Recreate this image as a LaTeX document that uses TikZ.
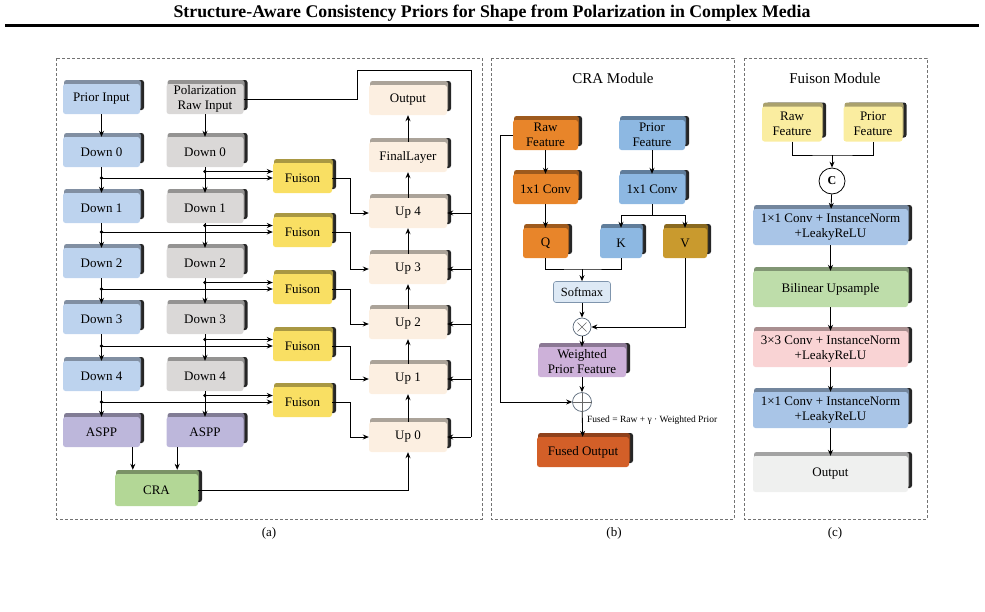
\documentclass[tikz,border=0pt]{standalone}
\usepackage{fontspec}
\setmainfont{Liberation Serif}
\usetikzlibrary{shadows,arrows.meta,calc}
\definecolor{cBlue}{HTML}{BDD3EE}
\definecolor{cGray}{HTML}{DAD8D7}
\definecolor{cYel}{HTML}{F9DF63}
\definecolor{cCream}{HTML}{FCEFE1}
\definecolor{cAspp}{HTML}{BDB7DB}
\definecolor{cGreen}{HTML}{B3D796}
\definecolor{cOrange}{HTML}{E8852A}
\definecolor{cPBlue}{HTML}{8DB8E2}
\definecolor{cGold}{HTML}{C99A2E}
\definecolor{cPurple}{HTML}{CDB1D9}
\definecolor{cRed}{HTML}{D35F28}
\definecolor{cSoft}{HTML}{DDE9F5}
\definecolor{cSoftB}{HTML}{7F95AD}
\definecolor{cLYel}{HTML}{FAEDA0}
\definecolor{cCBlue}{HTML}{A9C5E7}
\definecolor{cCGreen}{HTML}{BEDDAA}
\definecolor{cPink}{HTML}{F9D3D4}
\definecolor{cLGray}{HTML}{EFF0EF}
\tikzset{
  bx/.style={rounded corners=2.5pt, minimum height=30pt, inner sep=1pt, align=center,
    font=\fontsize{13}{15}\selectfont, fill=#1,
    general shadow={fill=black!85, shadow xshift=4pt, shadow yshift=4pt},
    general shadow={fill=#1!68!black, shadow xshift=1pt, shadow yshift=4pt}},
  arr/.style={-{Stealth[length=6pt,width=5pt]}, line width=0.85pt},
  ln/.style={line width=0.85pt},
  panel/.style={draw=black!55, dash pattern=on 3pt off 2pt, line width=0.6pt},
  dot/.style={circle, fill=black, inner sep=0pt, minimum size=3.8pt},
  lbl/.style={font=\fontsize{13}{15}\selectfont},
  ptitle/.style={font=\fontsize{15}{17}\selectfont},
}
\begin{document}
\begin{tikzpicture}[x=1pt,y=-1pt]
\useasboundingbox (0,0) rectangle (985,611);
% title
\node[font=\bfseries\fontsize{17.8}{20}\selectfont] (title) at (492,13) {Structure-Aware Consistency Priors for Shape from Polarization in Complex Media};
\draw[line width=3pt] (5,25.5) -- (979,25.5);
% panels
\draw[panel] (56,58) rectangle (482,519);
\draw[panel] (491,58) rectangle (734,519);
\draw[panel] (744,58) rectangle (927,519);
\node[lbl] (la) at (269,533) {(a)};
\node[lbl] (lb) at (614,533) {(b)};
\node[lbl] (lc) at (835,533) {(c)};

% ---------------- panel (a)
\node[bx=cBlue, minimum width=77pt] (pin) at (101.5,99) {Prior Input};
\node[bx=cGray, minimum width=77pt] (rin) at (205,99) {Polarization\\Raw Input};
\foreach \i/\y in {0/152,1/208,2/263,3/319,4/376}{
  \node[bx=cBlue, minimum width=77pt] (pd\i) at (101.5,\y) {Down \i};
  \node[bx=cGray, minimum width=77pt] (rd\i) at (205,\y) {Down \i};
}
\node[bx=cAspp, minimum width=77pt] (pa) at (101.5,432) {ASPP};
\node[bx=cAspp, minimum width=77pt] (ra) at (205,432) {ASPP};
\foreach \i/\y in {0/178,1/232,2/289,3/346,4/402}{
  \node[bx=cYel, minimum width=59pt] (f\i) at (302.5,\y) {Fuison};
}
\node[bx=cCream, minimum width=78pt] (out) at (408,100) {Output};
\node[bx=cCream, minimum width=78pt] (fl) at (408,157) {FinalLayer};
\foreach \i/\y in {4/213,3/269,2/324,1/379,0/437}{
  \node[bx=cCream, minimum width=78pt] (u\i) at (408,\y) {Up \i};
}
\node[bx=cGreen, minimum width=83pt, minimum height=32pt] (cra) at (156.5,490) {CRA};

\draw[arr] (pin) -- (pd0);
\draw[arr] (rin) -- (rd0);
\foreach \a/\b in {0/1,1/2,2/3,3/4}{
  \draw[arr] (pd\a) -- (pd\b);
  \draw[arr] (rd\a) -- (rd\b);
}
\draw[arr] (pd4) -- (pa);
\draw[arr] (rd4) -- (ra);
\foreach \i in {0,...,4}{
  \draw[arr] (pd\i.south |- f\i.west) -- (f\i.west);
  \node[dot] at (pd\i.south |- f\i.west) {};
  \draw[arr] ($(rd\i.south |- f\i.west)+(0,-6.5)$) -- ($(f\i.west)+(0,-6.5)$);
  \node[dot] at ($(rd\i.south |- f\i.west)+(0,-6.5)$) {};
}
\foreach \i/\j in {0/4,1/3,2/2,3/1,4/0}{
  \draw[arr] (f\i.east) -- ++(18,0) |- (u\j.west);
}
\draw[arr] (u0) -- (u1);
\draw[arr] (u1) -- (u2);
\draw[arr] (u2) -- (u3);
\draw[arr] (u3) -- (u4);
\draw[arr] (u4) -- (fl);
\draw[arr] (fl) -- (out);
\coordinate (bt) at (471,70);
\coordinate (bk) at (357,70);
\draw[ln] (rin.east) -| (bk) -- (bt) -- (bt |- u0.east);
\foreach \u in {u0,u1,u2,u3,u4}{
  \draw[arr] (bt |- \u.east) -- (\u.east);
}
\coordinate (c1) at ($(cra.north west)+(18,-4)$);
\coordinate (c2) at ($(cra.north east)+(-21,-4)$);
\draw[arr] (pa.south -| c1) -- (c1);
\draw[arr] (ra.south -| c2) -- (c2);
\draw[arr] (cra.east) -| (u0.south);

% ---------------- panel (b)
\node[ptitle] (tb) at (613,78) {CRA Module};
\node[bx=cOrange, minimum width=65pt] (rf) at (545.5,135) {Raw\\Feature};
\node[bx=cPBlue, minimum width=66pt] (pf) at (652,135) {Prior\\Feature};
\node[bx=cOrange, minimum width=65pt] (rc) at (545.5,189) {1x1 Conv};
\node[bx=cPBlue, minimum width=66pt] (pc) at (652,189) {1x1 Conv};
\node[bx=cOrange, minimum width=45pt] (q) at (545.5,243) {Q};
\node[bx=cPBlue, minimum width=42pt] (k) at (621,243) {K};
\node[bx=cGold, minimum width=44pt] (v) at (685,243) {V};
\node[draw=cSoftB, fill=cSoft, rounded corners=2.5pt, line width=0.6pt, minimum width=57pt, minimum height=21pt, inner sep=1pt, font=\fontsize{12.5}{14}\selectfont] (sm) at (582,292) {Softmax};
\node[circle, draw=cSoftB!70!black, fill=white, line width=0.7pt, minimum size=18pt, inner sep=0pt] (mul) at (582,327) {};
\draw[line width=0.6pt, black!60] ($(mul)+(-4.5,-4.5)$) -- ($(mul)+(4.5,4.5)$) ($(mul)+(-4.5,4.5)$) -- ($(mul)+(4.5,-4.5)$);
\node[bx=cPurple, minimum width=88pt] (wp) at (582,362) {Weighted\\Prior Feature};
\node[circle, draw=cSoftB!70!black, fill=white, line width=0.7pt, minimum size=19pt, inner sep=0pt] (add) at (582,402) {};
\draw[line width=0.6pt, black!60] ($(add)+(-9.5,0)$) -- ($(add)+(9.5,0)$) ($(add)+(0,-9.5)$) -- ($(add)+(0,9.5)$);
\node[bx=cRed, minimum width=92pt] (fo) at (583,452) {Fused Output};
\node[anchor=west, font=\fontsize{9.5}{11}\selectfont, inner sep=0pt] (eq) at (587,420) {Fused = Raw + γ · Weighted Prior};

\draw[arr] (rf) -- (rc);
\draw[arr] (rc) -- (q);
\draw[arr] (pf) -- (pc);
\coordinate (sp) at (652,215);
\draw[ln] (pc.south) -- (sp);
\draw[arr] (sp) -| (k.north);
\draw[arr] (sp) -| (v.north);
\coordinate (jn) at (582,269);
\draw[ln] (q.south) |- (jn) -| (k.south);
\draw[arr] (jn) -- (sm.north);
\draw[arr] (sm) -- (mul);
\draw[arr] (v.south) |- (mul.east);
\draw[arr] (mul) -- (wp);
\draw[arr] (wp) -- (add);
\draw[arr] (rf.west) -- ++(-12,0) |- (add.west);
\draw[arr] (add) -- (fo);

% ---------------- panel (c)
\node[ptitle] (tc) at (835,78) {Fuison Module};
\node[bx=cLYel, minimum width=60pt, minimum height=35pt] (crf) at (792,124) {Raw\\Feature};
\node[bx=cLYel, minimum width=59pt, minimum height=35pt] (cpf) at (873,124) {Prior\\Feature};
\node[circle, draw=black, fill=white, line width=0.8pt, minimum size=26pt, inner sep=0pt, font=\bfseries\fontsize{12}{14}\selectfont] (cc) at (832,181) {C};
\node[bx=cCBlue, minimum width=155pt, minimum height=36pt] (b1) at (830.5,227) {1×1 Conv + InstanceNorm\\+LeakyReLU};
\node[bx=cCGreen, minimum width=155pt, minimum height=36pt] (b2) at (830.5,289) {Bilinear Upsample};
\node[bx=cPink, minimum width=155pt, minimum height=36pt] (b3) at (830.5,349) {3×3 Conv + InstanceNorm\\+LeakyReLU};
\node[bx=cCBlue, minimum width=155pt, minimum height=36pt] (b4) at (830.5,410) {1×1 Conv + InstanceNorm\\+LeakyReLU};
\node[bx=cLGray, minimum width=155pt, minimum height=36pt] (b5) at (830.5,474) {Output};
\coordinate (cj) at (832,155);
\draw[ln] (crf.south) |- (cj) -| (cpf.south);
\draw[arr] (cj) -- (cc);
\draw[arr] (cc) -- (b1);
\draw[arr] (b1) -- (b2);
\draw[arr] (b2) -- (b3);
\draw[arr] (b3) -- (b4);
\draw[arr] (b4) -- (b5);
\end{tikzpicture}
\end{document}
